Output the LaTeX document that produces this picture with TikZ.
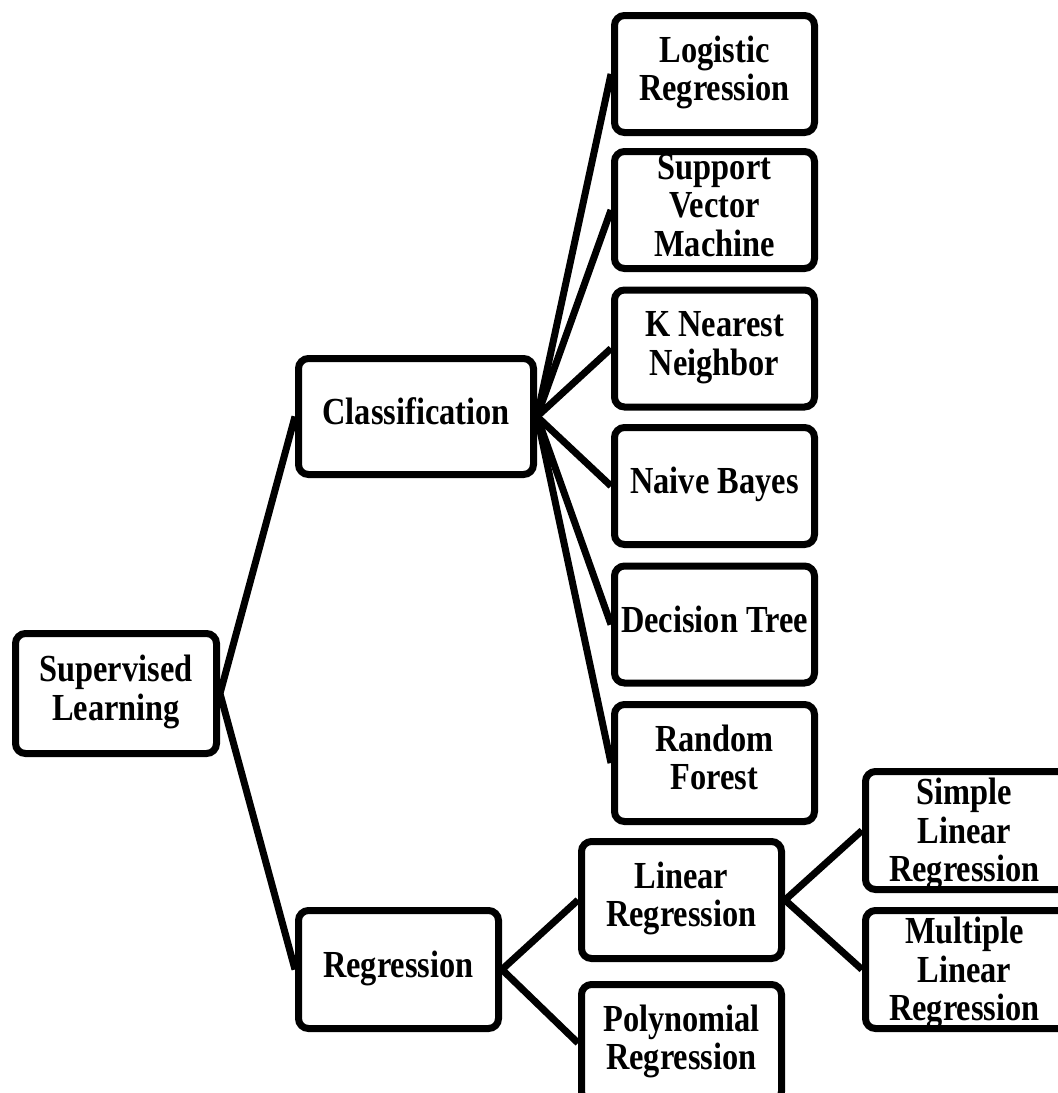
\documentclass[tikz,border=0pt]{standalone}
\usepackage{fontspec}
\setmainfont{Liberation Serif}
\usepackage{graphicx}
\newcommand\lbl[1]{\scalebox{1}[1.18]{\fontsize{16.2pt}{16.3pt}\selectfont\bfseries\begin{tabular}{@{}c@{}}#1\end{tabular}}}
\newcommand\shiftlbl[1]{\raisebox{-2.5pt}[\height][\depth]{\lbl{#1}}\rule{7pt}{0pt}}
\begin{document}
\begin{tikzpicture}[x=0.5pt,y=-0.5pt,
  box/.style={draw=black,line width=3.5pt,rounded corners=5pt,fill=white,inner sep=0pt,
    minimum width=100pt,minimum height=58.5pt,text=black},
  link/.style={draw=black,line width=3.5pt}]
\useasboundingbox (0,0) rectangle (1058,1093);
\node[box,minimum width=100.5pt,minimum height=60pt] (sl) at (116,693.5) {\lbl{Supervised\\Learning}};
\node[box,minimum width=117.5pt,minimum height=58pt] (cls) at (416,416.5) {\lbl{Classification}};
\node[box,minimum height=59pt] (reg) at (398.5,969.5) {\lbl{Regression}};
\node[box] (c1) at (714.5,74) {\lbl{Logistic\\Regression}};
\node[box] (c2) at (714.5,210) {\lbl{Support\\Vector\\Machine}};
\node[box] (c3) at (714.5,348.5) {\lbl{K Nearest\\Neighbor}};
\node[box] (c4) at (714.5,486) {\lbl{Naive Bayes}};
\node[box] (c5) at (714.5,624.5) {\lbl{Decision Tree}};
\node[box] (c6) at (714.5,763) {\lbl{Random\\Forest}};
\node[box] (lin) at (681.5,900) {\lbl{Linear\\Regression}};
\node[box] (poly) at (681.5,1043) {\lbl{Polynomial\\Regression}};
\node[box,minimum width=106pt,minimum height=59pt] (simp) at (971.5,830.5) {\shiftlbl{Simple\\Linear\\Regression}};
\node[box,minimum width=106pt,minimum height=59pt] (mult) at (971.5,969.5) {\shiftlbl{Multiple\\Linear\\Regression}};
\draw[link] (cls.west) -- (sl.east) -- (reg.west);
\foreach \n in {c1,c2,c3,c4,c5,c6} \draw[link] (cls.east) -- (\n.west);
\draw[link] (lin.west) -- (reg.east) -- (poly.west);
\draw[link] (simp.west) -- (lin.east) -- (mult.west);
\end{tikzpicture}
\end{document}
